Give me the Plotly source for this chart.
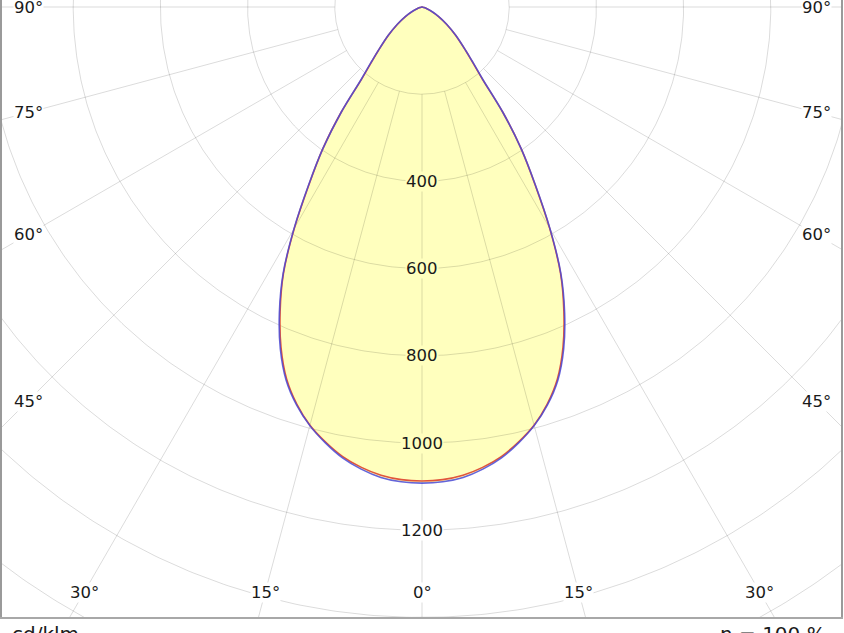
import numpy as np
import plotly.graph_objects as go

# ---------------- data ----------------
gamma_deg = [0, 2.5, 5, 7.5, 10, 12.5, 15, 17.5, 20, 22.5, 25, 27.5, 30, 32.5,
             35, 37.5, 40, 42.5, 45, 50, 55, 60, 65, 70, 75, 80, 85, 90]
i_c0_c180 = [1087, 1085, 1078, 1065, 1047, 1022, 993, 955, 908, 845, 770, 688,
             585, 482, 396, 305, 215, 172, 142, 100, 68, 44, 25, 12, 5, 2, 1, 0]
i_c90_c270 = [1092, 1090, 1083, 1069, 1050, 1024, 994, 957, 911, 849, 774, 690,
              587, 484, 396, 305, 217, 174, 143, 101, 69, 45, 26, 12, 5, 2, 1, 0]

radial_ticks = [200, 400, 600, 800, 1000, 1200, 1400, 1600]
radial_labelled = [400, 600, 800, 1000, 1200]
spoke_angles = [-90, -75, -60, -45, -30, -15, 0, 15, 30, 45, 60, 75, 90]
bottom_label_angles = [0, 15, 30]
side_label_angles = [45, 60, 75, 90]
unit_label = "cd/klm"
efficiency_label = "η = 100 %"

# ---------------- style / layout constants ----------------
W, H = 844, 633
K = 0.436            # px per cd/klm
CX, CY = 422, 7      # pole position in px
ML, MR, MT, MB = 2, 3, 0, 16
FILL = "#FFFFBE"
GRID = "rgba(0,0,0,0.14)"
FONT = "DejaVu Sans"
SIDE_DX = 394        # horizontal px distance of side labels from pole
BOTTOM_DY = 585      # vertical px distance of bottom labels from pole


def to_xy(angles_deg, radii):
    a = np.radians(np.asarray(angles_deg, dtype=float))
    r = np.asarray(radii, dtype=float)
    return r * np.sin(a), -r * np.cos(a)


def full_curve(vals):
    ang = [-g for g in reversed(gamma_deg)] + gamma_deg[1:]
    rad = list(reversed(vals)) + vals[1:]
    return to_xy(ang, rad)


fig = go.Figure()

# fill of light distribution
fx, fy = full_curve(i_c90_c270)
fig.add_trace(go.Scatter(x=fx, y=fy, mode="lines", fill="toself", fillcolor=FILL,
                         line=dict(width=0, color=FILL, shape="spline"),
                         hoverinfo="skip", showlegend=False))

# grid circles
gx, gy = [], []
t = np.linspace(-180, 180, 721)
for r in radial_ticks:
    x, y = to_xy(t, [r] * len(t))
    gx += list(x) + [None]
    gy += list(y) + [None]
# spokes
r_in, r_out = radial_ticks[0], radial_ticks[-1] * 1.5
for a in spoke_angles:
    x, y = to_xy([a, a], [r_in, r_out])
    gx += list(x) + [None]
    gy += list(y) + [None]
fig.add_trace(go.Scatter(x=gx, y=gy, mode="lines", line=dict(color=GRID, width=1),
                         hoverinfo="skip", showlegend=False))

# curves
rx, ry = full_curve(i_c0_c180)
fig.add_trace(go.Scatter(x=rx, y=ry, mode="lines", name="C0-C180",
                         line=dict(color="#e0553c", width=1.6, shape="spline"),
                         showlegend=False))
bx, by = full_curve(i_c90_c270)
fig.add_trace(go.Scatter(x=bx, y=by, mode="lines", name="C90-C270",
                         line=dict(color="#4a4ad8", width=1.6, shape="spline"),
                         opacity=0.85, showlegend=False))

annotations = []
# radial labels
for r in radial_labelled:
    annotations.append(dict(x=0, y=-r, xref="x", yref="y", text=str(r), showarrow=False,
                            font=dict(family=FONT, size=16.5, color="#1a1a1a"),
                            bgcolor=FILL if r < i_c0_c180[0] else "white", borderpad=0))
# side angle labels
d = SIDE_DX / K
for g in side_label_angles:
    yv = -d / np.tan(np.radians(g)) if g < 90 else 0.0
    for s in (-1, 1):
        annotations.append(dict(x=s * d, y=yv, xref="x", yref="y", text=f"{g}°",
                                showarrow=False, bgcolor="white", borderpad=0,
                                font=dict(family=FONT, size=16.5, color="#1a1a1a")))
# bottom angle labels
dy = BOTTOM_DY / K
for g in bottom_label_angles:
    xv = dy * np.tan(np.radians(g))
    for s in ((1,) if g == 0 else (-1, 1)):
        annotations.append(dict(x=s * xv, y=-dy, xref="x", yref="y", text=f"{g}°",
                                showarrow=False, bgcolor="white", borderpad=0,
                                font=dict(family=FONT, size=16.5, color="#1a1a1a")))
pw = W - ML - MR
annotations.append(dict(x=(10 - ML) / pw, y=0, xref="paper", yref="paper", text=unit_label,
                        xanchor="left", yanchor="top", yshift=-3, showarrow=False,
                        font=dict(family=FONT, size=20, color="#1a1a1a")))
annotations.append(dict(x=(828 - ML) / pw, y=0, xref="paper", yref="paper", text=efficiency_label,
                        xanchor="right", yanchor="top", yshift=-3, showarrow=False,
                        font=dict(family=FONT, size=20, color="#1a1a1a")))

fig.update_layout(
    width=W, height=H, margin=dict(l=ML, r=MR, t=MT, b=MB),
    paper_bgcolor="white", plot_bgcolor="white",
    xaxis=dict(range=[(ML - CX) / K, (W - MR - CX) / K], showgrid=False, zeroline=False,
               showticklabels=False, ticks="", showline=True, linecolor="#a8a8a8",
               linewidth=1.5, mirror=False, fixedrange=True),
    yaxis=dict(range=[(CY - (H - MB)) / K, (CY - MT) / K], showgrid=False, zeroline=False,
               showticklabels=False, ticks="", showline=True, linecolor="#9a9a9a",
               linewidth=2, mirror=True, fixedrange=True),
    annotations=annotations,
)

fig.write_html("out.html", config={"displayModeBar": False},
               post_script="document.body.style.margin='0';document.body.style.overflow='hidden';")
